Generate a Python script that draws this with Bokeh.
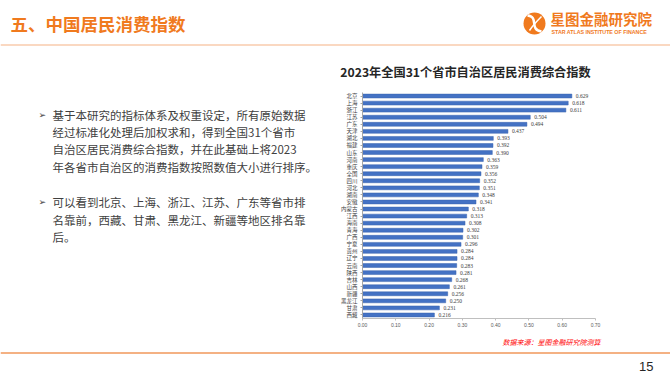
from bokeh.plotting import figure
from bokeh.models import Range1d, FactorRange, FixedTicker, NumeralTickFormatter
from bokeh.layouts import column, row
from bokeh.core.properties import value
from bokeh.embed import file_html
from bokeh.resources import INLINE

# ---------------- data ----------------
provinces = ["北京", "上海", "浙江", "江苏", "广东", "天津", "湖北", "福建", "山东", "河南",
             "重庆", "全国", "四川", "河北", "湖南", "安徽", "内蒙古", "江西", "海南", "青海",
             "广西", "宁夏", "贵州", "辽宁", "云南", "陕西", "吉林", "山西", "新疆", "黑龙江",
             "甘肃", "西藏"]
index_values = [0.629, 0.618, 0.611, 0.504, 0.494, 0.437, 0.393, 0.392, 0.390, 0.363,
                0.359, 0.356, 0.352, 0.351, 0.348, 0.341, 0.318, 0.313, 0.308, 0.302,
                0.301, 0.296, 0.284, 0.284, 0.283, 0.281, 0.268, 0.261, 0.256, 0.250,
                0.231, 0.216]
x_ticks = [0.0, 0.1, 0.2, 0.3, 0.4, 0.5, 0.6, 0.7]

page_title = "五、中国居民消费指数"
chart_title = "2023年全国31个省市自治区居民消费综合指数"
org_name = "星图金融研究院"
org_name_en = "STAR ATLAS INSTITUTE OF FINANCE"
source_note = "数据来源：星图金融研究院测算"
page_no = "15"
bullet_1 = ["基于本研究的指标体系及权重设定，所有原始数据",
            "经过标准化处理后加权求和，得到全国31个省市",
            "自治区居民消费综合指数，并在此基础上将2023",
            "年各省市自治区的消费指数按照数值大小进行排序。"]
bullet_2 = ["可以看到北京、上海、浙江、江苏、广东等省市排",
            "名靠前，西藏、甘肃、黑龙江、新疆等地区排名靠",
            "后。"]

CJK = value("Noto Sans CJK SC")
ORANGE = "#F07A1E"


def deco_fig(w, h, x0, x1, y0, y1):
    p = figure(width=w, height=h, x_range=Range1d(x0, x1), y_range=Range1d(y1, y0),
               output_backend="svg", toolbar_location=None, min_border=0)
    p.axis.visible = False
    p.grid.visible = False
    p.outline_line_color = None
    p.background_fill_color = "white"
    p.border_fill_color = "white"
    return p


# ---------------- header (page y 0..80) ----------------
hdr = deco_fig(670, 80, 0, 670, 0, 80)
hdr.text(x=[10], y=[23], text=[page_title], text_font=CJK, text_font_style="bold",
         text_font_size="17.5px", text_color=ORANGE, text_baseline="middle")
hdr.segment(x0=[0], y0=[44.5], x1=[670], y1=[44.5], line_color="#F8CBAD", line_width=1.5)
# logo
hdr.circle(x=[534], y=[23], radius=11, fill_color=ORANGE, line_color=None)
hdr.bezier(x0=[527], y0=[15], x1=[541], y1=[31], cx0=[539], cy0=[16], cx1=[528], cy1=[29],
           line_color="white", line_width=2.5)
hdr.bezier(x0=[529], y0=[30], x1=[541], y1=[16], cx0=[533], cy0=[24], cx1=[537], cy1=[20],
           line_color="white", line_width=1.5)
hdr.text(x=[550], y=[18], text=[org_name], text_font=CJK, text_font_style="bold",
         text_font_size="14.5px", text_color=ORANGE, text_baseline="middle")
hdr.text(x=[551], y=[31], text=[org_name_en], text_font=value("Liberation Sans"),
         text_font_style="bold", text_font_size="5.3px", text_color=ORANGE, text_baseline="middle")
hdr.text(x=[465], y=[71], text=[chart_title], text_font=CJK, text_font_style="bold",
         text_font_size="12.2px", text_color="#262626", text_baseline="middle", text_align="center")

# ---------------- left text (page y 80..335) ----------------
left = deco_fig(330, 255, 0, 330, 80, 335)
y1 = [105, 124.5, 144, 163.5]
y2 = [204, 223.5, 243]
left.text(x=[52] * len(bullet_1), y=y1, text=bullet_1, text_font=CJK, text_font_size="11.5px",
          text_color="#404040", text_baseline="middle")
left.text(x=[52] * len(bullet_2), y=y2, text=bullet_2, text_font=CJK, text_font_size="11.5px",
          text_color="#404040", text_baseline="middle")
left.text(x=[38, 38], y=[105, 204], text=["➢", "➢"], text_font=value("DejaVu Sans"),
          text_font_size="9px", text_color="#404040", text_baseline="middle")

# ---------------- chart ----------------
chart = figure(width=340, height=255,
               y_range=FactorRange(factors=provinces[::-1], range_padding=0, factor_padding=0),
               x_range=Range1d(0, 0.7), output_backend="svg", toolbar_location=None,
               min_border_left=32, min_border_right=75, min_border_top=12, min_border_bottom=17)
chart.hbar(y=provinces, right=index_values, height=0.55, fill_color="#4472C4",
           line_color="#3A64AE", line_width=0.5)
chart.text(x=index_values, y=provinces, text=[f"{v:.3f}" for v in index_values], x_offset=4,
           text_baseline="middle", text_font=value("Liberation Serif"), text_font_size="5.5px",
           text_color="#404040")
chart.xaxis.ticker = FixedTicker(ticks=x_ticks)
chart.xaxis.formatter = NumeralTickFormatter(format="0.00")
chart.xaxis.major_label_text_font_size = "5px"
chart.xaxis.major_label_text_color = "#595959"
chart.xaxis.axis_line_color = "#BFBFBF"
chart.xaxis.major_tick_line_color = "#BFBFBF"
chart.xaxis.major_tick_out = 2
chart.xaxis.major_tick_in = 0
chart.xaxis.minor_tick_line_color = None
chart.xaxis.major_label_standoff = 2
chart.yaxis.major_label_text_font_size = "5.5px"
chart.yaxis.major_label_text_font = "Noto Sans CJK SC"
chart.yaxis.major_label_text_color = "#404040"
chart.yaxis.axis_line_color = "#A6A6A6"
chart.yaxis.major_tick_line_color = "#A6A6A6"
chart.yaxis.major_tick_out = 2
chart.yaxis.major_tick_in = 0
chart.yaxis.major_label_standoff = 3
chart.grid.visible = False
chart.outline_line_color = None

# ---------------- footer (page y 335..377) ----------------
ftr = deco_fig(670, 42, 0, 670, 335, 377)
ftr.text(x=[502], y=[341.5], text=[source_note], text_font=CJK, text_font_style="italic",
         text_font_size="7px", text_color="#FF0000", text_baseline="middle")
ftr.segment(x0=[0], y0=[352.5], x1=[670], y1=[352.5], line_color="#F4B183", line_width=2)
ftr.text(x=[653], y=[366], text=[page_no], text_font=value("Liberation Sans"),
         text_font_size="13px", text_color="#262626", text_baseline="middle", text_align="right")

p = column(hdr, row(left, chart, spacing=0), ftr, spacing=0)
open("out.html", "w").write(file_html(p, INLINE))
